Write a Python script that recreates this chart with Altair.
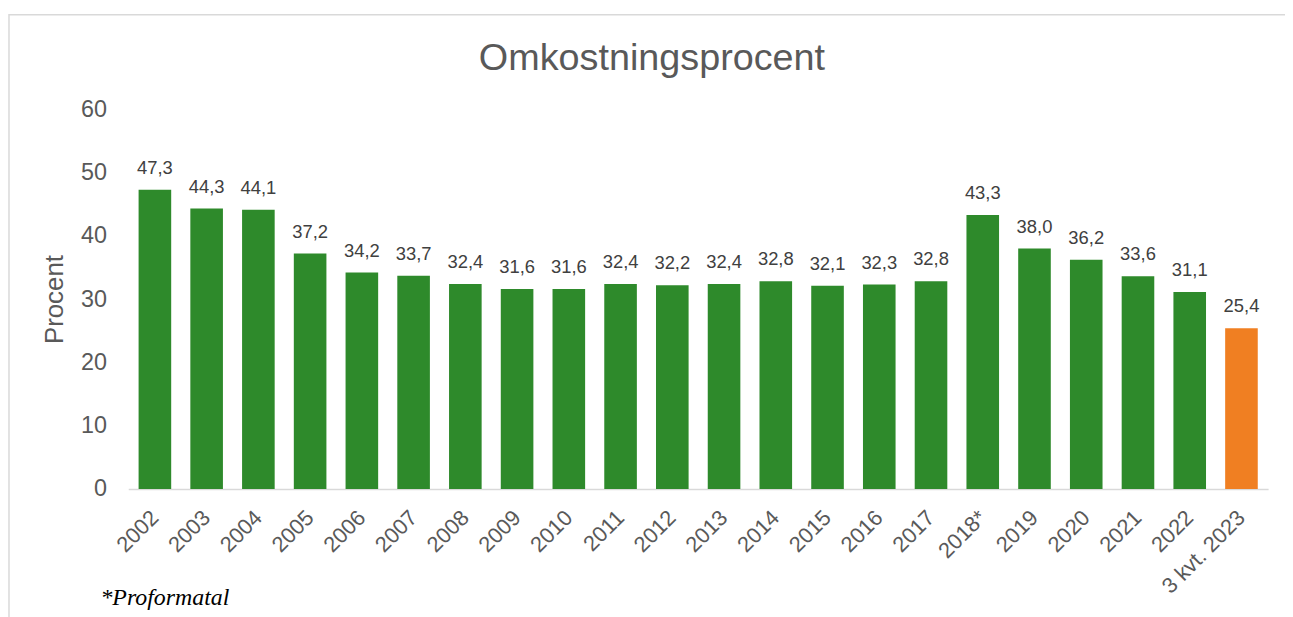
import altair as alt
import pandas as pd

categories = ["2002", "2003", "2004", "2005", "2006", "2007", "2008", "2009", "2010",
              "2011", "2012", "2013", "2014", "2015", "2016", "2017", "2018*", "2019",
              "2020", "2021", "2022", "3 kvt. 2023"]
values = [47.3, 44.3, 44.1, 37.2, 34.2, 33.7, 32.4, 31.6, 31.6, 32.4, 32.2, 32.4,
          32.8, 32.1, 32.3, 32.8, 43.3, 38.0, 36.2, 33.6, 31.1, 25.4]
groups = ["år"] * 21 + ["kvartal"]
title_text = ["Omkostningsprocent"]
footnote = ["*Proformatal"]

df = pd.DataFrame({"kat": categories, "v": values, "g": groups})

FONT = "Liberation Sans"
GRAY = "#595959"

x = alt.X("kat:N", sort=categories, title=None,
          scale=alt.Scale(paddingInner=0.37, paddingOuter=0.2),
          axis=alt.Axis(labelAngle=-45, labelAlign="right", labelBaseline="middle",
                        labelFontSize=22, labelColor=GRAY, labelFont=FONT,
                        domainColor="#d9d9d9", domainWidth=1.5, ticks=False, labelPadding=25))
y = alt.Y("v:Q", title="Procent",
          scale=alt.Scale(domain=[0, 60]),
          axis=alt.Axis(values=[0, 10, 20, 30, 40, 50, 60], labelFontSize=23.5, labelColor=GRAY,
                        labelFont=FONT, domain=False, ticks=False, grid=False, labelPadding=22,
                        titleFontSize=26, titleColor=GRAY, titleFont=FONT, titleFontWeight="normal",
                        titlePadding=13))

base = alt.Chart(df)

bars = base.mark_bar().encode(
    x=x, y=y,
    color=alt.Color("g:N", scale=alt.Scale(domain=["år", "kvartal"], range=["#2e8a2b", "#f07f22"]),
                    legend=None),
)

labels = base.transform_calculate(
    lab="replace(format(datum.v, '.1f'), '.', ',')"
).mark_text(baseline="alphabetic", dy=-16, fontSize=18.5, color="#404040", font=FONT).encode(
    x=alt.X("kat:N", sort=categories), y="v:Q", text="lab:N"
)

frame = alt.Chart(pd.DataFrame({"a": [0]})).mark_rect(
    fill=None, stroke="#d9d9d9", strokeWidth=1.5
).encode(x=alt.value(-120), x2=alt.value(1200), y=alt.value(-95), y2=alt.value(560))

title = alt.Chart(pd.DataFrame({"t": title_text})).mark_text(
    align="center", baseline="alphabetic", fontSize=38, color=GRAY, font=FONT
).encode(x=alt.value(527), y=alt.value(-40), text="t:N")

foot = alt.Chart(pd.DataFrame({"t": footnote})).mark_text(
    align="left", baseline="alphabetic", fontSize=24, fontStyle="italic", font="Liberation Serif",
    color="#000000"
).encode(x=alt.value(-28), y=alt.value(499), text="t:N")

chart = alt.layer(frame, bars, labels, title, foot).properties(
    width=1147, height=382,
    padding={"left": 121, "top": 100, "right": 17, "bottom": 127},
    autosize=alt.AutoSizeParams(type="none"),
).configure_view(stroke=None)

chart.save("out.html", embed_options={"renderer": "svg", "actions": False})
